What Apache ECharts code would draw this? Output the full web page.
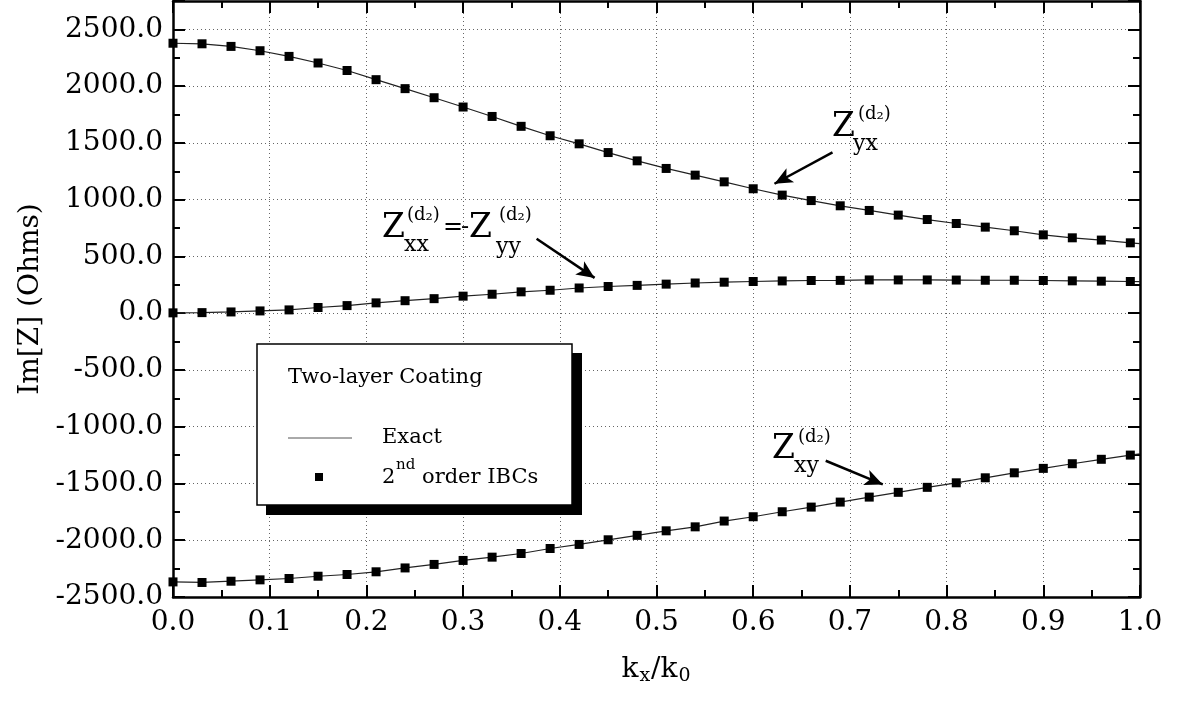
<!DOCTYPE html>
<html>
<head>
<meta charset="utf-8">
<script src="https://cdn.jsdelivr.net/npm/echarts@6/dist/echarts.min.js"></script>
<style>
  html, body { margin: 0; padding: 0; background: #fff; }
  #chart { width: 1181px; height: 702px; }
</style>
</head>
<body>
<div id="chart"></div>
<script>
// k_x/k_0 sample points of the 2nd order IBC markers
const kx = [0.00, 0.03, 0.06, 0.09, 0.12, 0.15, 0.18, 0.21, 0.24, 0.27, 0.30, 0.33,
  0.36, 0.39, 0.42, 0.45, 0.48, 0.51, 0.54, 0.57, 0.60, 0.63, 0.66, 0.69, 0.72,
  0.75, 0.78, 0.81, 0.84, 0.87, 0.90, 0.93, 0.96, 0.99];
// Im[Z] (Ohms)
const zyx = [2378, 2373, 2350, 2312, 2262, 2204, 2138, 2057, 1978, 1898, 1816, 1733,
  1646, 1563, 1492, 1415, 1342, 1275, 1216, 1157, 1096, 1040, 992, 946, 905,
  864, 825, 790, 758, 726, 690, 664, 644, 620];
const zxx = [3, 5, 11, 20, 29, 50, 67, 91, 110, 128, 150, 167,
  188, 202, 222, 235, 245, 256, 266, 273, 279, 284, 288, 289, 293,
  293, 293, 292, 290, 290, 288, 285, 282, 279];
const zxy = [-2367, -2372, -2361, -2349, -2337, -2317, -2302, -2278, -2244, -2213, -2178, -2149,
  -2117, -2073, -2037, -1996, -1957, -1917, -1882, -1831, -1793, -1749, -1708, -1664, -1620,
  -1578, -1534, -1494, -1450, -1406, -1367, -1326, -1287, -1250];
// the exact curve runs on to k_x/k_0 = 1.0
const kxEnd = 1.0;
const zyxEnd = 612, zxxEnd = 278, zxyEnd = -1238;

const xTicks = { min: 0, max: 1, step: 0.1 };
const yTicks = { min: -2500, max: 2750, step: 500 };

// annotation arrows: [fromX, fromY, toX, toY] in data units
const arrows = [
  [0.682, 1416, 0.622, 1140],
  [0.376, 655, 0.436, 311],
  [0.675, -1300, 0.734, -1508]
];

const FONT = "'DejaVu Serif', 'Liberation Serif', serif";
const chart = echarts.init(document.getElementById("chart"));

const pairs = (xs, ys) => xs.map((x, i) => [x, ys[i]]);
const exact = (ys, end) => pairs(kx, ys).concat([[kxEnd, end]]);

const tickStyle = { color: "#000", width: 2 };
function xAxis(pos, labels) {
  return {
    type: "value", position: pos, min: xTicks.min, max: xTicks.max, interval: xTicks.step,
    axisLine: { onZero: false, lineStyle: { color: "#000", width: 2.5 } },
    axisTick: { inside: true, length: 12, lineStyle: tickStyle },
    minorTick: { show: true, splitNumber: 2, length: 7, lineStyle: tickStyle },
    splitLine: { show: labels, lineStyle: { color: "#666", type: [1, 3], width: 1 } },
    axisLabel: {
      show: labels, color: "#000", fontFamily: FONT, fontSize: 28, margin: 12,
      formatter: (v) => v.toFixed(1)
    }
  };
}
function yAxis(pos, labels) {
  return {
    type: "value", position: pos, min: yTicks.min, max: yTicks.max, interval: yTicks.step,
    axisLine: { onZero: false, lineStyle: { color: "#000", width: 2.5 } },
    axisTick: { inside: true, length: 12, lineStyle: tickStyle },
    minorTick: { show: true, splitNumber: 2, length: 7, lineStyle: tickStyle },
    splitLine: { show: labels, lineStyle: { color: "#666", type: [1, 3], width: 1 } },
    axisLabel: {
      show: labels, color: "#000", fontFamily: FONT, fontSize: 28, margin: 10,
      showMaxLabel: false, formatter: (v) => v.toFixed(1)
    }
  };
}

const xa = xAxis("bottom", true);
xa.name = "{k|k}{s|x}{k|/k}{s|0}";
xa.nameLocation = "middle";
xa.nameGap = 56;
xa.nameTextStyle = {
  rich: {
    k: { fontFamily: FONT, fontSize: 28, color: "#000" },
    s: { fontFamily: FONT, fontSize: 19, color: "#000", verticalAlign: "bottom", padding: [14, 1, 0, 1] }
  }
};
const ya = yAxis("left", true);
ya.name = "Im[Z] (Ohms)";
ya.nameLocation = "middle";
ya.nameGap = 122;
ya.nameTextStyle = { fontFamily: FONT, fontSize: 28, color: "#000" };

function lineSeries(data, withArrows) {
  const s = {
    type: "line", data: data, showSymbol: false, symbol: "none",
    lineStyle: { color: "#222", width: 1.2 }, z: 2, animation: false
  };
  if (withArrows) {
    s.markLine = {
      silent: true, animation: false,
      symbol: ["none", "arrow"], symbolSize: [12, 18],
      lineStyle: { color: "#000", width: 2.5, type: "solid" },
      label: { show: false },
      data: arrows.map((a) => [{ coord: [a[0], a[1]] }, { coord: [a[2], a[3]] }])
    };
  }
  return s;
}
function markerSeries(xs, ys) {
  return {
    type: "scatter", data: pairs(xs, ys), symbol: "rect", symbolSize: 9,
    itemStyle: { color: "#000", opacity: 1 }, z: 3, animation: false
  };
}

// text helper for graphic labels (x = left edge, y = vertical centre)
function txt(x, y, s, size) {
  return {
    type: "text", x: x, y: y, z: 110,
    style: { text: s, fontFamily: FONT, fontSize: size, fill: "#000", textAlign: "left", textVerticalAlign: "middle" }
  };
}

const graphic = [
  // legend box with offset shadow
  { type: "rect", z: 100, shape: { x: 266, y: 353, width: 316, height: 162 }, style: { fill: "#000" } },
  { type: "rect", z: 101, shape: { x: 257, y: 344, width: 315, height: 161 }, style: { fill: "#fff", stroke: "#000", lineWidth: 1.5 } },
  txt(288, 378, "Two-layer Coating", 21),
  { type: "line", z: 110, shape: { x1: 288, y1: 438, x2: 352, y2: 438 }, style: { stroke: "#555", lineWidth: 1 } },
  txt(382, 438, "Exact", 21),
  { type: "rect", z: 110, shape: { x: 315, y: 473, width: 8, height: 8 }, style: { fill: "#000" } },
  txt(382, 478, "2", 21),
  txt(396, 465, "nd", 15),
  txt(422, 478, "order IBCs", 21),
  // Z_yx
  txt(832, 127, "Z", 33),
  txt(853, 144, "yx", 22),
  txt(858, 114, "(d\u2082)", 18),
  // Z_xx = -Z_yy
  txt(382, 228, "Z", 33),
  txt(404, 245, "xx", 22),
  txt(407, 215, "(d\u2082)", 18),
  txt(443, 228, "=", 24),
  txt(461, 228, "-", 24),
  txt(469, 228, "Z", 33),
  txt(496, 247, "yy", 22),
  txt(499, 215, "(d\u2082)", 18),
  // Z_xy
  txt(772, 449, "Z", 33),
  txt(794, 466, "xy", 22),
  txt(798, 437, "(d\u2082)", 18)
];

const option = {
  animation: false,
  backgroundColor: "#fff",
  grid: { left: 173, right: 41, top: 1, bottom: 105 },
  xAxis: [xa, xAxis("top", false)],
  yAxis: [ya, yAxis("right", false)],
  series: [
    lineSeries(exact(zyx, zyxEnd), true),
    lineSeries(exact(zxx, zxxEnd), false),
    lineSeries(exact(zxy, zxyEnd), false),
    markerSeries(kx, zyx),
    markerSeries(kx, zxx),
    markerSeries(kx, zxy)
  ],
  graphic: graphic
};

chart.setOption(option);
</script>
</body>
</html>
